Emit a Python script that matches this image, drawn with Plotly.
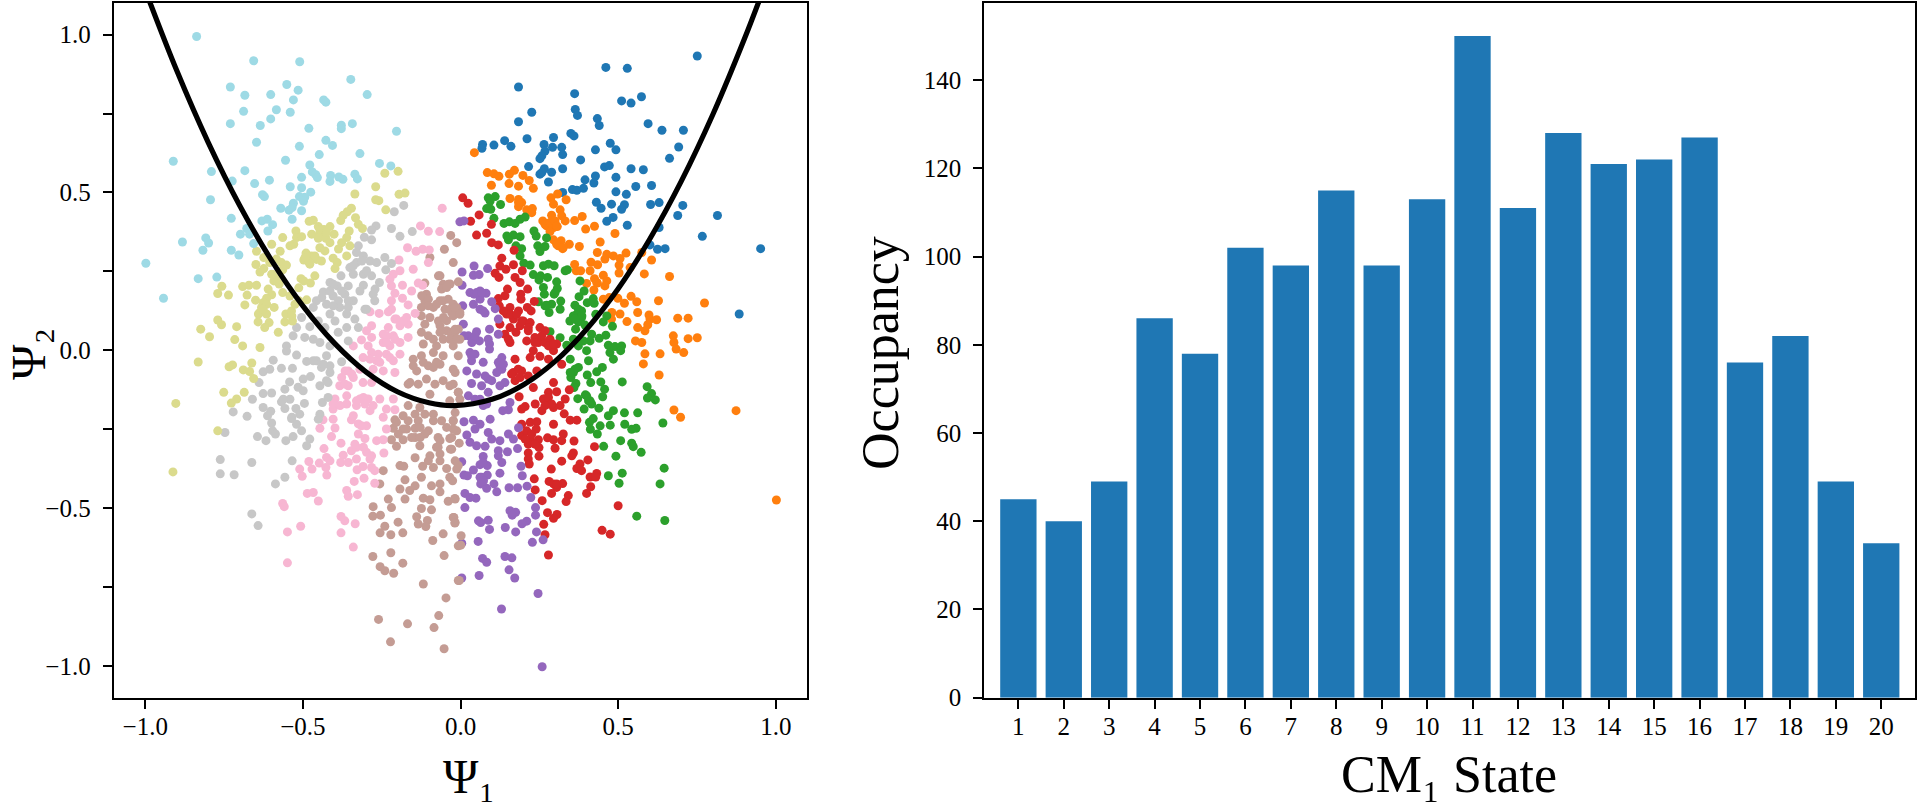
import plotly.graph_objects as go

# left panel, one list of (psi1, psi2) per cluster
blue_pts = [(.751,.932),(.461,.896),(.529,.893),(.184,.834),(.362,.813),(.574,.803),(.511,.790),(.541,.783),(.364,.763),(.371,.744),
(.226,.754),(.184,.724),(.434,.734),(.440,.712),(.595,.718),(.639,.697),(.707,.697),(.350,.687),(.360,.679),(.295,.674),
(.211,.670),(.140,.664),(.160,.646),(.106,.650),(.070,.652),(.068,.640),(.265,.652),(.292,.643),(.321,.643),(.268,.631),
(.258,.616),(.252,.607),(.324,.620),(.428,.635),(.475,.656),(.493,.635),(.692,.644),(.663,.608),(.381,.603),(.457,.581),
(.472,.585),(.216,.582),(.266,.575),(.324,.575),(.541,.575),(.580,.572),(.252,.558),(.289,.564),(.258,.563),(.493,.548),
(.428,.552),(.395,.540),(.279,.533),(.423,.530),(.556,.519),(.606,.522),(.355,.509),(.369,.507),(.390,.513),(.324,.500),
(.493,.502),(.526,.494),(.431,.469),(.446,.450),(.479,.463),(.520,.461),(.511,.447),(.603,.462),(.630,.468),(.705,.459),
(.689,.427),(.815,.427),(.484,.421),(.464,.409),(.529,.396),(.630,.389),(.767,.361),(.601,.334),(.625,.320),(.649,.322),
(.952,.322),(.884,.115)]

orange_pts = [(.044,.626),(.085,.563),(.106,.559),(.122,.551),(.155,.558),(.171,.570),(.198,.554),(.098,.523),(.154,.528),(.184,.520),
(.218,.538),(.231,.513),(.157,.481),(.184,.478),(.194,.468),(.184,.455),(.210,.445),(.228,.449),(.226,.436),(.287,.483),
(.308,.495),(.335,.477),(.295,.463),(.316,.445),(.289,.428),(.321,.426),(.332,.410),(.261,.410),(.273,.394),(.295,.389),
(.307,.392),(.284,.376),(.362,.411),(.386,.424),(.397,.384),(.425,.393),(.490,.370),(.295,.350),(.319,.347),(.310,.331),
(.324,.322),(.345,.336),(.377,.329),(.443,.343),(.434,.310),(.464,.304),(.485,.299),(.458,.289),(.525,.308),(.506,.291),
(.414,.279),(.435,.271),(.503,.270),(.575,.310),(.606,.286),(.362,.272),(.367,.252),(.538,.262),(.503,.245),(.583,.242),
(.663,.234),(.411,.252),(.381,.252),(.425,.227),(.453,.238),(.464,.220),(.400,.212),(.434,.213),(.458,.204),(.423,.191),
(.453,.162),(.472,.167),(.499,.165),(.520,.149),(.541,.171),(.559,.154),(.628,.157),(.774,.150),(.480,.120),(.506,.115),
(.562,.120),(.598,.112),(.601,.099),(.622,.097),(.479,.099),(.528,.091),(.562,.072),(.594,.081),(.585,.062),(.689,.102),
(.722,.102),(.675,.046),(.677,.025),(.722,.037),(.751,.040),(.555,.030),(.575,.025),(.585,-.011),(.633,-.011),(.684,.004),
(.708,-.007),(.580,-.043),(.630,-.078),(.677,-.189),(.698,-.212),(.874,-.191),(1.002,-.474),
(.268,.399),(.284,.405),(.300,.410),(.305,.394),(.305,.336),(.326,.326),(.432,.215),(.184,.468)]

green_pts = [(.088,.483),(.110,.487),(.127,.462),(.083,.449),(.096,.447),(.106,.418),(.138,.402),(.155,.407),(.173,.402),(.189,.415),
(.205,.422),(.233,.378),(.240,.362),(.273,.356),(.147,.362),(.168,.365),(.189,.360),(.152,.350),(.176,.331),(.194,.322),
(.245,.331),(.268,.329),(.252,.313),(.189,.299),(.201,.276),(.221,.270),(.263,.268),(.279,.273),(.297,.268),(.332,.252),
(.339,.255),(.231,.240),(.254,.236),(.276,.231),(.249,.223),(.305,.217),(.379,.220),(.263,.199),(.307,.196),(.297,.178),
(.266,.178),(.392,.188),(.376,.170),(.318,.156),(.421,.164),(.402,.151),(.289,.146),(.273,.143),(.247,.154),(.363,.143),
(.424,.149),(.316,.130),(.281,.120),(.384,.125),(.369,.114),(.358,.109),(.429,.114),(.464,.109),(.384,.104),(.347,.093),
(.374,.090),(.453,.090),(.395,.080),(.482,.076),(.365,.067),(.416,.051),(.461,.048),(.440,.038),(.284,.059),(.316,.040),
(.358,.035),(.411,.030),(.390,.030),(.337,.016),(.469,.016),(.511,.014),(.490,.012),(.374,.014),(.400,-.001),(.474,-.007),
(.508,-.001),(.485,-.028),(.406,-.033),(.348,-.028),(.374,-.054),(.358,-.070),(.450,-.054),(.432,-.068),(.350,-.086),(.402,-.078),
(.413,-.102),(.445,-.100),(.513,-.100),(.366,-.105),(.360,-.118),(.457,-.123),(.396,-.141),(.451,-.147),(.372,-.153),(.406,-.160),
(.592,-.115),(.606,-.137),(.593,-.151),(.618,-.157),(.416,-.170),(.439,-.183),(.392,-.186),(.485,-.191),(.469,-.207),(.520,-.198),
(.562,-.198),(.421,-.216),(.409,-.228),(.642,-.230),(.443,-.239),(.475,-.237),(.521,-.234),(.412,-.250),(.543,-.250),(.557,-.247),
(.434,-.265),(.508,-.286),(.543,-.294),(.548,-.305),(.454,-.304),(.573,-.323),(.493,-.335),(.646,-.373),(.513,-.389),(.469,-.397),
(.633,-.423),(.503,-.421),(.559,-.525),(.648,-.539),
(.374,.130),(.385,.109),(.363,.099),(.094,.473),(.268,.141),(.300,.183),(.363,-.060),(.348,-.070),(.411,-.160),(.400,-.144)]

red_pts = [(.007,.483),(.024,.466),(.059,.429),(.032,.409),(.098,.399),(.051,.365),(.083,.371),(.099,.341),(.120,.334),(.170,.317),
(.131,.292),(.168,.271),(.125,.267),(.144,.257),(.110,.244),(.122,.231),(.196,.252),(.173,.231),(.189,.215),(.149,.194),
(.213,.194),(.191,.178),(.141,.173),(.120,.164),(.192,.162),(.234,.155),(.123,.141),(.157,.136),(.212,.136),(.146,.115),
(.184,.125),(.224,.125),(.168,.099),(.199,.093),(.125,.083),(.221,.088),(.157,.072),(.189,.078),(.252,.072),(.141,.051),
(.176,.057),(.215,.062),(.268,.062),(.157,.025),(.236,.041),(.210,.030),(.284,.035),(.305,.020),(.247,.025),(.268,.025),
(.231,-.001),(.295,-.001),(.173,-.028),(.221,-.023),(.279,-.028),(.252,-.019),(.321,-.044),(.168,-.070),(.194,-.065),(.215,-.081),
(.242,-.065),(.173,-.096),(.295,-.102),(.231,-.118),(.279,-.133),(.305,-.131),(.345,-.125),(.186,-.147),(.268,-.154),(.332,-.154),
(.237,-.170),(.279,-.170),(.316,-.175),(.258,-.191),(.295,-.181),(.194,-.186),(.205,-.178),(.329,-.201),(.348,-.221),(.369,-.221),
(.295,-.234),(.194,-.234),(.221,-.228),(.242,-.226),(.240,-.249),(.194,-.270),(.221,-.281),(.276,-.277),(.295,-.283),(.326,-.265),
(.321,-.286),(.360,-.287),(.247,-.283),(.215,-.297),(.249,-.308),(.300,-.310),(.425,-.305),(.215,-.325),(.358,-.325),(.353,-.334),
(.249,-.335),(.215,-.344),(.218,-.360),(.321,-.351),(.404,-.347),(.379,-.360),(.369,-.374),(.384,-.381),(.288,-.376),(.432,-.390),
(.411,-.401),(.429,-.401),(.234,-.407),(.281,-.415),(.324,-.422),(.295,-.423),(.305,-.434),(.413,-.432),(.237,-.442),(.289,-.453),
(.400,-.453),(.342,-.460),(.259,-.476),(.335,-.479),(.500,-.492),(.276,-.514),(.306,-.520),(.295,-.532),(.264,-.551),(.268,-.584),
(.449,-.570),(.475,-.582),(.279,-.648),
(.157,.114),(.178,.114),(.136,.125),(.194,.093),(.215,.072),(.152,.035),(.236,.025),(.258,.046),(.279,.014),(.295,.020),
(.183,-.060),(.162,-.075),(.189,-.086),(.263,-.154),(.279,-.149),(.289,-.170),(.268,-.175),(.210,-.255),(.226,-.265),(.205,-.281),
(.236,-.297),(.305,-.423)]

purple_pts = [(-.002,.407),(.011,.410),(.043,.267),(.005,.248),(.041,.238),(.059,.240),(.086,.259),(.005,.206),(.030,.183),(.062,.188),
(.081,.181),(.043,.178),(.062,.162),(.007,.141),(.041,.146),(.099,.154),(.110,.132),(.062,.130),(.078,.118),(.120,.099),
(.009,.083),(.092,.067),(.051,.059),(.120,.051),(.025,.046),(.060,.030),(.036,.025),(.092,.020),(.011,.046),(.030,-.007),
(.092,.004),(.035,-.033),(.072,-.038),(.131,-.023),(.120,-.038),(.131,-.060),(.115,-.070),(.020,-.065),(.051,-.075),(.088,-.091),
(.035,-.105),(.067,-.112),(.125,-.112),(.141,-.102),(.025,-.144),(.088,-.133),(.157,-.165),(.046,-.155),(.072,-.175),(.152,-.188),
(.134,-.191),(.094,-.218),(.011,-.226),(.041,-.221),(.062,-.234),(.046,-.249),(.184,-.245),(.088,-.260),(.020,-.268),(.152,-.265),
(.099,-.281),(.125,-.286),(.168,-.281),(.030,-.291),(.051,-.302),(.078,-.304),(.181,-.311),(.120,-.318),(.149,-.321),(.120,-.334),
(.072,-.336),(.004,-.353),(.131,-.355),(.062,-.362),(.085,-.365),(.192,-.367),(.041,-.379),(.125,-.389),(.011,-.395),(.022,-.397),
(.085,-.395),(.196,-.397),(.067,-.402),(.064,-.423),(.106,-.423),(.083,-.437),(.154,-.435),(.181,-.435),(.211,-.430),(.115,-.448),
(.014,-.453),(.030,-.466),(.049,-.468),(.223,-.466),(.014,-.498),(.238,-.498),(.157,-.508),(.175,-.513),(.164,-.522),(.238,-.522),
(.057,-.540),(.088,-.538),(.064,-.545),(.210,-.541),(.195,-.549),(.092,-.567),(.142,-.561),(.175,-.575),(.241,-.575),(.056,-.605),
(.262,-.600),(.228,-.608),(.004,-.611),(.070,-.659),(.083,-.671),(.141,-.653),(.163,-.657),(.154,-.695),(.004,-.721),(.059,-.713),
(.172,-.721),(.246,-.770),(.130,-.819),(.259,-1.002),
(.125,-.049),(.136,-.044),(.078,-.081),(.099,-.096),(.062,-.155),(.083,-.170),(.062,-.402),(.073,-.413),(.072,-.355),(.035,-.017),
(.046,-.012),(.051,.183),(.067,.183),(.072,.125),(.046,.046),(.088,.035)]

brown_pts = [(-.031,.364),(-.012,.341),(-.051,.320),(-.097,.294),(-.023,.278),(-.065,.236),(-.113,.213),(-.055,.209),(-.039,.209),(-.060,.194),
(-.108,.178),(-.113,.157),(-.065,.157),(-.039,.162),(-.124,.136),(-.086,.136),(-.023,.146),(-.049,.130),(-.124,.109),(-.097,.104),
(-.044,.094),(-.113,.083),(-.065,.078),(-.124,.057),(-.044,.062),(-.018,.057),(-.086,.035),(-.055,.035),(-.118,.020),(-.076,.014),
(-.007,.217),(-.033,.210),(-.012,.135),(-.002,.120),(-.028,.120),(-.007,.067),(-.028,.046),(-.002,.035),(-.023,.014),(-.150,-.028),
(-.124,-.017),(-.086,-.007),(-.065,-.044),(-.102,-.049),(-.023,-.060),(-.139,-.065),(-.108,-.091),(-.055,-.096),(-.166,-.107),(-.134,-.107),
(-.081,-.107),(-.034,-.112),(-.007,-.133),(-.097,-.139),(-.166,-.175),(-.129,-.181),(-.034,-.160),(-.182,-.207),(-.144,-.202),(-.113,-.202),
(-.086,-.202),(-.208,-.220),(-.166,-.223),(-.134,-.223),(-.060,-.223),(-.023,-.223),(-.213,-.247),(-.182,-.249),(-.144,-.247),(-.102,-.255),
(-.044,-.244),(-.012,-.255),(-.219,-.283),(-.182,-.283),(-.144,-.276),(-.113,-.265),(-.071,-.276),(-.034,-.279),(-.203,-.304),(-.129,-.302),
(-.076,-.307),(-.032,-.313),(-.065,-.328),(-.144,-.340),(-.097,-.334),(-.102,-.350),(-.065,-.350),(-.192,-.365),(-.180,-.367),(-.120,-.367),
(-.086,-.371),(-.044,-.374),(-.245,-.381),(-.007,-.365),(-.124,-.402),(-.034,-.402),(-.176,-.410),(-.256,-.423),(-.144,-.429),(-.092,-.429),
(-.065,-.423),(-.192,-.439),(-.161,-.444),(-.065,-.448),(-.229,-.471),(-.176,-.471),(-.118,-.468),(-.097,-.473),(-.039,-.478),(-.018,-.469),
(-.277,-.495),(-.219,-.498),(-.124,-.501),(-.092,-.505),(-.278,-.525),(-.254,-.522),(-.139,-.527),(-.023,-.529),(-.198,-.544),(-.240,-.557),
(-.134,-.550),(-.105,-.539),(-.110,-.558),(-.018,-.547),(-.255,-.578),(-.221,-.584),(-.183,-.578),(-.055,-.581),(-.088,-.602),(-.007,-.619),
(-.221,-.641),(-.278,-.653),(-.052,-.650),(-.183,-.674),(-.255,-.685),(-.240,-.698),(-.212,-.706),(-.118,-.740),(-.007,-.729),(-.046,-.784),
(-.069,-.840),(-.260,-.852),(-.168,-.866),(-.084,-.878),(-.222,-.923),(-.052,-.945),(-.017,-.070),(-.023,-.107),(-.007,-.017),(-.007,-.133),
(-.002,-.155),(-.017,-.197),(-.023,-.223),(-.023,-.249),(-.028,-.276),(-.004,-.294),(-.028,-.313),(-.017,-.350),(-.012,-.376),(-.025,-.413),
(-.017,-.471),(-.021,-.529),(-.017,-.545),(.002,-.587),(.001,-.617),(-.004,-.729),
(-.070,.236),(-.044,.199),(-.123,.173),(-.102,.162),(-.102,.141),(-.076,.146),(-.055,.157),(-.033,.130),(-.070,.093),(-.054,.104),
(-.065,.057),(-.028,.057),(-.102,.046),(-.033,.035),(-.017,.136),(-.023,.109),(-.002,.114),(-.017,.067),(-.012,.035),(-.076,-.038),
(-.055,-.017),(-.086,-.054),(-.150,-.049),(-.118,-.038),(-.160,-.102),(-.203,-.228),(-.171,-.249),(-.128,-.244),(-.086,-.223),(-.197,-.265),
(-.155,-.276),(-.128,-.276),(-.065,-.286),(-.071,-.307)]

pink_pts = [(-.058,.450),(-.127,.394),(-.102,.377),(-.066,.376),(-.168,.325),(-.141,.314),(-.120,.320),(-.099,.318),(-.195,.286),(-.102,.278),
(-.192,.252),(-.213,.241),(-.224,.225),(-.219,.204),(-.150,.257),(-.184,.206),(-.155,.188),(-.134,.213),(-.120,.206),(-.208,.181),
(-.184,.165),(-.219,.157),(-.219,.130),(-.166,.144),(-.287,.122),(-.258,.117),(-.229,.122),(-.144,.117),(-.208,.099),(-.171,.104),
(-.192,.078),(-.166,.083),(-.282,.078),(-.229,.072),(-.298,.062),(-.245,.051),(-.213,.046),(-.282,.041),(-.166,.041),(-.314,.033),
(-.245,.025),(-.192,.025),(-.340,.014),(-.293,.014),(-.224,.014),(-.282,-.007),(-.235,-.012),(-.192,-.012),(-.309,-.023),(-.266,-.033),
(-.213,-.033),(-.356,-.065),(-.319,-.060),(-.277,-.060),(-.245,-.065),(-.208,-.070),(-.377,-.086),(-.340,-.086),(-.309,-.102),(-.282,-.102),
(-.383,-.112),(-.356,-.112),(-.256,-.154),(-.213,-.154),(-.398,-.154),(-.361,-.144),(-.319,-.154),(-.293,-.154),(-.404,-.186),(-.361,-.170),
(-.330,-.175),(-.287,-.191),(-.235,-.186),(-.208,-.188),(-.245,-.212),(-.436,-.220),(-.404,-.218),(-.346,-.220),(-.446,-.247),(-.398,-.246),
(-.324,-.233),(-.298,-.239),(-.235,-.249),(-.409,-.273),(-.324,-.265),(-.379,-.294),(-.303,-.279),(-.266,-.286),(-.245,-.283),(-.330,-.307),
(-.346,-.318),(-.433,-.311),(-.298,-.323),(-.243,-.325),(-.372,-.332),(-.330,-.344),(-.282,-.334),(-.425,-.339),(-.414,-.350),(-.481,-.352),
(-.448,-.357),(-.380,-.355),(-.356,-.355),(-.309,-.368),(-.282,-.371),(-.510,-.376),(-.471,-.376),(-.427,-.371),(-.328,-.378),(-.272,-.381),
(-.502,-.399),(-.424,-.395),(-.306,-.405),(-.337,-.415),(-.272,-.421),(-.361,-.444),(-.356,-.462),(-.327,-.457),(-.486,-.453),(-.467,-.450),
(-.451,-.477),(-.564,-.485),(-.559,-.495),(-.379,-.526),(-.367,-.540),(-.334,-.549),(-.507,-.557),(-.549,-.575),(-.379,-.578),(-.340,-.623),
(-.549,-.673),
(-.261,-.012),(-.287,-.028),(-.224,-.023),(-.256,-.038),(-.366,-.065),(-.345,-.075),(-.366,-.107),(-.330,-.160),(-.303,-.170),(-.277,-.175),
(-.308,-.149),(-.404,-.170),(-.382,-.175),(-.340,-.207),(-.314,-.239),(-.335,-.297),(-.308,-.307),(-.287,-.344),(-.234,.046),(-.234,.025),
(-.203,.099),(-.181,.094),(-.208,.035)]

gray_pts = [(-.180,.459),(-.210,.439),(-.219,.386),(-.153,.376),(-.192,.361),(-.268,.394),(-.282,.381),(-.305,.358),(-.282,.350),(-.324,.331),
(-.330,.310),(-.308,.299),(-.287,.283),(-.266,.278),(-.240,.294),(-.219,.275),(-.237,.255),(-.330,.278),(-.351,.262),(-.340,.241),
(-.308,.241),(-.282,.236),(-.379,.236),(-.257,.215),(-.414,.215),(-.391,.204),(-.356,.204),(-.308,.206),(-.435,.185),(-.404,.172),
(-.367,.178),(-.319,.188),(-.277,.178),(-.272,.157),(-.457,.157),(-.425,.146),(-.383,.136),(-.340,.157),(-.303,.130),(-.467,.136),
(-.414,.115),(-.361,.115),(-.335,.099),(-.504,.104),(-.451,.093),(-.398,.093),(-.478,.075),(-.430,.072),(-.520,.072),(-.324,.072),
(-.361,.072),(-.388,.057),(-.531,.046),(-.494,.041),(-.467,.035),(-.446,.025),(-.356,.030),(-.552,.014),(-.414,.014),(-.594,-.031),
(-.520,-.015),(-.552,-.002),(-.488,-.035),(-.457,-.033),(-.425,-.017),(-.377,-.036),(-.626,-.068),(-.605,-.060),(-.568,-.057),(-.533,-.057),
(-.441,-.054),(-.414,-.049),(-.476,-.083),(-.499,-.091),(-.446,-.112),(-.420,-.102),(-.639,-.102),(-.542,-.100),(-.599,-.135),(-.626,-.137),
(-.557,-.123),(-.515,-.117),(-.499,-.128),(-.660,-.155),(-.568,-.163),(-.541,-.155),(-.557,-.184),(-.495,-.168),(-.438,-.165),(-.420,-.149),
(-.626,-.181),(-.602,-.193),(-.522,-.184),(-.721,-.195),(-.677,-.209),(-.612,-.207),(-.536,-.216),(-.510,-.202),(-.446,-.202),(-.451,-.218),
(-.599,-.230),(-.520,-.234),(-.504,-.255),(-.596,-.255),(-.747,-.260),(-.644,-.273),(-.617,-.286),(-.587,-.265),(-.554,-.286),(-.531,-.273),
(-.478,-.281),(-.488,-.302),(-.762,-.346),(-.662,-.355),(-.534,-.350),(-.762,-.391),(-.718,-.394),(-.557,-.402),(-.587,-.423),(-.662,-.518),
(-.642,-.555),
(-.313,.283),(-.340,.268),(-.298,.252),(-.403,.209),(-.377,.188),(-.414,.188),(-.440,.167),(-.387,.157),(-.356,.157),(-.404,.141),
(-.356,.136),(-.271,.194),(-.298,.130),(-.467,-.033),(-.435,-.044),(-.414,-.070),(-.425,-.096),(-.562,-.155),(-.535,-.212)]

olive_pts = [(-.240,.561),(-.198,.567),(-.269,.518),(-.335,.495),(-.195,.494),(-.176,.498),(-.269,.477),(-.259,.474),(-.237,.445),(-.346,.450),
(-.359,.439),(-.372,.428),(-.380,.411),(-.333,.420),(-.324,.399),(-.311,.386),(-.480,.409),(-.467,.412),(-.451,.392),(-.433,.383),
(-.414,.392),(-.401,.368),(-.446,.373),(-.472,.368),(-.451,.355),(-.427,.355),(-.414,.341),(-.353,.378),(-.361,.357),(-.377,.341),
(-.351,.331),(-.387,.321),(-.446,.325),(-.430,.315),(-.522,.378),(-.520,.357),(-.504,.360),(-.564,.357),(-.529,.336),(-.541,.331),
(-.599,.336),(-.647,.314),(-.572,.314),(-.490,.308),(-.497,.286),(-.472,.299),(-.457,.288),(-.478,.273),(-.441,.283),(-.404,.292),
(-.391,.278),(-.398,.259),(-.361,.299),(-.624,.294),(-.605,.278),(-.584,.289),(-.568,.278),(-.552,.270),(-.564,.255),(-.649,.272),
(-.624,.259),(-.636,.248),(-.596,.240),(-.584,.227),(-.592,.220),(-.575,.210),(-.462,.236),(-.476,.213),(-.506,.227),(-.497,.220),
(-.513,.198),(-.757,.203),(-.770,.180),(-.736,.175),(-.691,.202),(-.671,.206),(-.647,.206),(-.677,.175),(-.650,.159),(-.684,.144),
(-.610,.194),(-.599,.176),(-.615,.165),(-.626,.151),(-.631,.136),(-.591,.136),(-.636,.120),(-.615,.115),(-.642,.090),(-.607,.088),
(-.621,.072),(-.564,.183),(-.541,.172),(-.525,.146),(-.488,.160),(-.513,.157),(-.554,.115),(-.536,.125),(-.557,.090),(-.533,.093),
(-.578,.057),(-.770,.096),(-.758,.081),(-.710,.075),(-.824,.067),(-.796,.043),(-.716,.034),(-.691,.014),(-.636,.009),(-.832,-.037),
(-.734,-.052),(-.723,-.046),(-.689,-.062),(-.662,-.040),(-.669,-.067),(-.656,-.089),(-.751,-.133),(-.686,-.133),(-.710,-.154),(-.727,-.167),
(-.903,-.168),(-.770,-.255),(-.912,-.385),
(-.483,.283),(-.462,.299),(-.493,.294),(-.446,.383),(-.425,.373),(-.615,.146),(-.641,.115),(-.626,.130),(-.599,.241),(-.535,.109)]

cyan_pts = [(-.837,.994),(-.656,.917),(-.510,.914),(-.348,.858),(-.730,.834),(-.551,.842),(-.515,.824),(-.684,.808),(-.602,.810),(-.296,.810),
(-.530,.793),(-.434,.793),(-.427,.786),(-.584,.762),(-.688,.757),(-.540,.754),(-.730,.718),(-.602,.733),(-.635,.712),(-.378,.713),
(-.378,.702),(-.343,.718),(-.481,.703),(-.203,.694),(-.647,.659),(-.427,.665),(-.406,.649),(-.511,.646),(-.448,.620),(-.319,.623),
(-.555,.602),(-.911,.599),(-.478,.587),(-.257,.592),(-.221,.584),(-.790,.566),(-.684,.569),(-.470,.565),(-.459,.556),(-.454,.547),
(-.412,.554),(-.414,.535),(-.386,.549),(-.373,.542),(-.335,.558),(-.327,.543),(-.504,.548),(-.606,.539),(-.724,.536),(-.653,.528),
(-.540,.518),(-.504,.515),(-.475,.501),(-.628,.493),(-.622,.487),(-.511,.487),(-.494,.485),(-.498,.472),(-.793,.477),(-.530,.466),
(-.570,.450),(-.544,.444),(-.534,.452),(-.504,.442),(-.727,.418),(-.534,.415),(-.630,.410),(-.613,.415),(-.596,.398),(-.611,.378),
(-.678,.386),(-.698,.368),(-.669,.368),(-.808,.356),(-.799,.340),(-.882,.343),(-.656,.338),(-.817,.317),(-.727,.317),(-.703,.302),
(-.998,.276),(-.832,.227),(-.773,.232),(-.942,.165)]

clusters = [
    (blue_pts, '#1f77b4'), (orange_pts, '#ff7f0e'), (green_pts, '#2ca02c'), (red_pts, '#d62728'), (purple_pts, '#9467bd'),
    (brown_pts, '#c49c94'), (pink_pts, '#f7b6d2'), (gray_pts, '#c7c7c7'), (olive_pts, '#dbdb8d'), (cyan_pts, '#9edae5'),
]

curve_x = [-1.0, -.9, -.8, -.7, -.6, -.5, -.4, -.3, -.2, -.1, -.02, .1, .2, .3, .4, .5, .6, .7, .8, .9, .96]
curve_y = [1.141, .886, .658, .458, .286, .141, .023, -.068, -.131, -.166, -.175, -.155, -.109, -.035, .067, .195, .352, .535, .746, .985, 1.141]

# right panel
states = list(range(1, 21))
occupancy = [45, 40, 49, 86, 78, 102, 98, 115, 98, 113, 150, 111, 128, 121, 122, 127, 76, 82, 49, 35]

psi_x_ticks = [-1.0, -0.5, 0.0, 0.5, 1.0]
psi_x_labels = ['\u22121.0', '\u22120.5', '0.0', '0.5', '1.0']
psi_y_ticks = [-1.0, -0.75, -0.5, -0.25, 0.0, 0.25, 0.5, 0.75, 1.0]
psi_y_labels = ['\u22121.0', '', '\u22120.5', '', '0.0', '', '0.5', '', '1.0']
occ_ticks = [0, 20, 40, 60, 80, 100, 120, 140]

FONT = 'Liberation Serif'
W, H = 1920, 807

fig = go.Figure()

for pts, color in clusters:
    fig.add_trace(go.Scatter(
        x=[p[0] for p in pts], y=[p[1] for p in pts], mode='markers',
        marker=dict(color=color, size=9, line=dict(width=0)),
        xaxis='x', yaxis='y', showlegend=False,
    ))

fig.add_trace(go.Scatter(
    x=curve_x, y=curve_y, mode='lines',
    line=dict(color='black', width=5.2, shape='spline'),
    xaxis='x', yaxis='y', showlegend=False,
))

fig.add_trace(go.Bar(
    x=states, y=occupancy, width=0.8, marker=dict(color='#1f77b4', line=dict(width=0)),
    xaxis='x2', yaxis='y2', showlegend=False,
))

axis_style = dict(
    showgrid=False, zeroline=False, showline=True, mirror=True, linecolor='black', linewidth=2,
    ticks='outside', ticklen=9, tickwidth=1.5, tickcolor='black', automargin=False,
    tickfont=dict(family=FONT, size=25, color='black'),
)


def axis_title(text, px, py, size, angle=0):
    # axis titles go in as annotations, the margins are all zero here
    return dict(text=text, x=px / W, y=1 - py / H, xref='paper', yref='paper', showarrow=False,
                xanchor='center', yanchor='middle', textangle=angle,
                font=dict(family=FONT, size=size, color='black'))


fig.update_layout(
    width=W, height=H, margin=dict(l=0, r=0, t=0, b=0),
    paper_bgcolor='white', plot_bgcolor='white', bargap=0.2,
    xaxis=dict(domain=[113.7 / W, 807.3 / W], range=[-1.1, 1.1], anchor='y', ticklabelstandoff=-4,
               tickvals=psi_x_ticks, ticktext=psi_x_labels, **axis_style),
    yaxis=dict(domain=[1 - 697.7 / H, 1 - 3 / H], range=[-1.1, 1.1], anchor='x', ticklabelstandoff=7,
               tickvals=psi_y_ticks, ticktext=psi_y_labels, **axis_style),
    xaxis2=dict(domain=[984.3 / W, 1915.3 / W], range=[0.25, 20.75], anchor='y2', ticklabelstandoff=-4,
                tickvals=states, ticktext=[str(s) for s in states], **axis_style),
    yaxis2=dict(domain=[1 - 697.7 / H, 1 - 3 / H], range=[0, 157.5], anchor='x2', ticklabelstandoff=7,
                tickvals=occ_ticks, **axis_style),
    annotations=[
        axis_title('\u03a8\u2081', 469, 776, 48),
        axis_title('\u03a8\u2082', 28, 354, 48, -90),
        axis_title('CM\u2081 State', 1449, 774, 52),
        axis_title('Occupancy', 880, 353, 52, -90),
    ],
)

# the page body has a default margin, drop it so the figure sits at 0,0
fig.write_html("out.html", config={'displayModeBar': False}, post_script="document.body.style.margin='0';")
